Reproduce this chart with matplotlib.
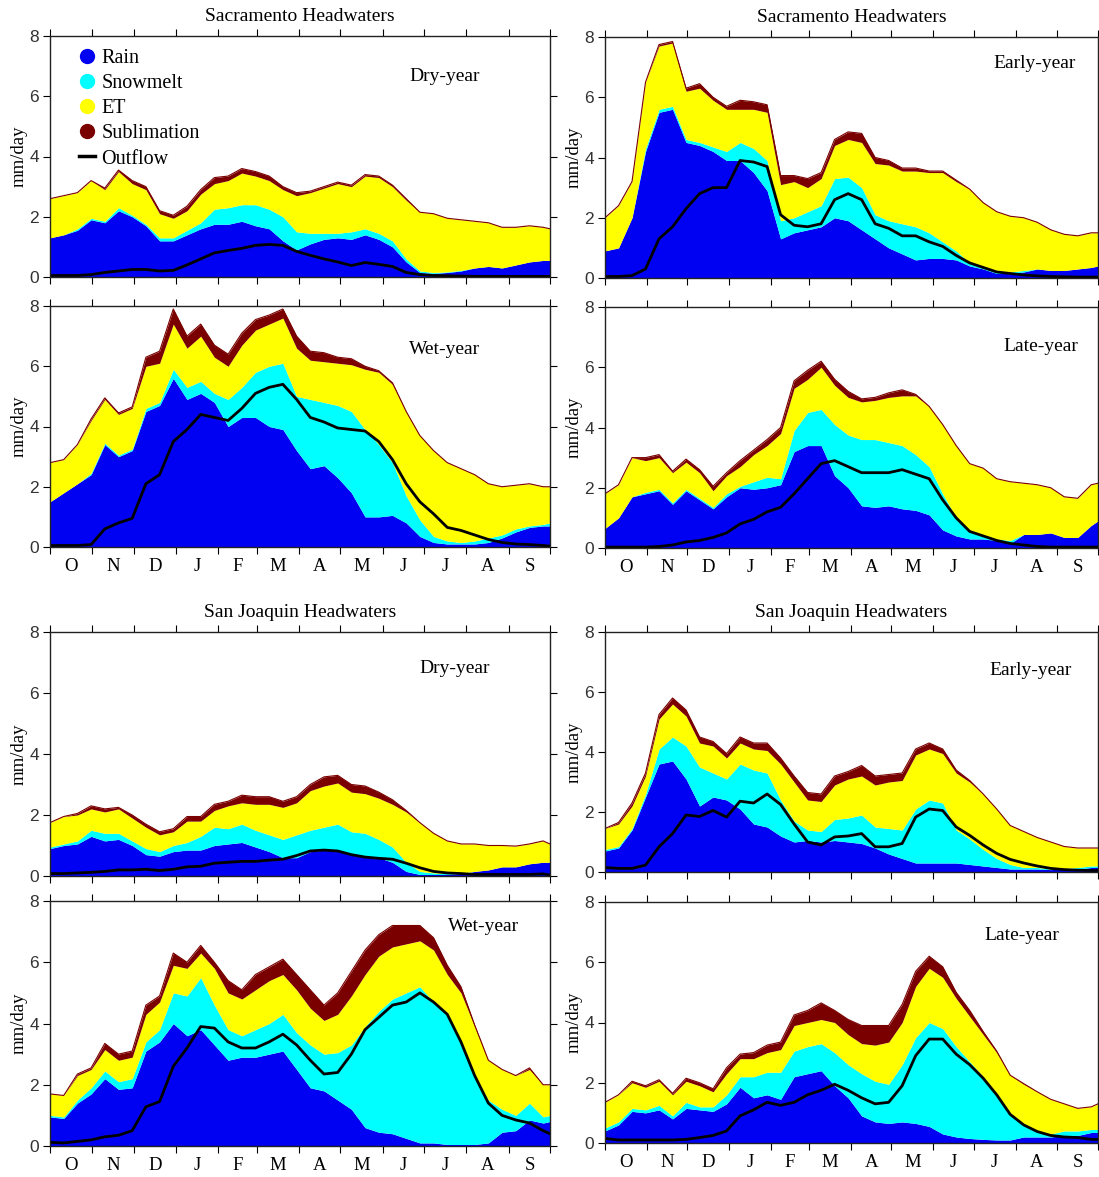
import numpy as np
import matplotlib
matplotlib.use("Agg")
import matplotlib.pyplot as plt
from matplotlib.lines import Line2D

plt.rcParams['font.family'] = ['Liberation Serif', 'DejaVu Serif']

# water-year days since 1 Oct, sampled every ~10 days
days = [0, 10, 20, 30, 40, 50, 60, 70, 80, 90, 100, 110, 120, 130, 140, 150, 160, 170, 180,
        190, 200, 210, 220, 230, 240, 250, 260, 270, 280, 290, 300, 310, 320, 330, 340, 350, 360, 365]
month_edges = [0, 31, 61, 92, 123, 151, 182, 212, 243, 273, 304, 335, 365]
month_labels = ['O', 'N', 'D', 'J', 'F', 'M', 'A', 'M', 'J', 'J', 'A', 'S']

# stacked layer tops (mm/day): rain, +snowmelt, +ET, +sublimation ; outflow line
# Sacramento - dry year
sac_dry_rain = [1.3, 1.4, 1.55, 1.9, 1.8, 2.2, 2.0, 1.7, 1.2, 1.2, 1.4, 1.6, 1.75, 1.75, 1.85, 1.7, 1.6, 1.2, 0.9,
                1.1, 1.25, 1.3, 1.25, 1.4, 1.25, 1.0, 0.5, 0.15, 0.12, 0.15, 0.2, 0.3, 0.35, 0.3, 0.4, 0.5, 0.55, 0.55]
sac_dry_snow = [1.3, 1.4, 1.6, 1.95, 1.85, 2.3, 2.05, 1.75, 1.3, 1.3, 1.55, 1.8, 2.25, 2.3, 2.4, 2.4, 2.25, 2.0, 1.5,
                1.45, 1.45, 1.45, 1.5, 1.6, 1.45, 1.2, 0.6, 0.2, 0.15, 0.17, 0.22, 0.3, 0.35, 0.3, 0.4, 0.5, 0.55, 0.55]
sac_dry_et = [2.6, 2.7, 2.8, 3.2, 2.9, 3.5, 3.1, 2.9, 2.1, 1.95, 2.2, 2.75, 3.1, 3.2, 3.45, 3.35, 3.2, 2.9, 2.7,
              2.8, 2.95, 3.1, 3.0, 3.35, 3.3, 3.0, 2.55, 2.15, 2.1, 1.95, 1.9, 1.85, 1.8, 1.65, 1.65, 1.7, 1.65, 1.6]
sac_dry_subl = [2.6, 2.7, 2.8, 3.2, 2.95, 3.55, 3.2, 3.0, 2.2, 2.05, 2.35, 2.9, 3.3, 3.35, 3.6, 3.5, 3.35, 3.0, 2.8,
                2.85, 3.0, 3.15, 3.05, 3.4, 3.35, 3.05, 2.6, 2.15, 2.1, 1.95, 1.9, 1.85, 1.8, 1.65, 1.65, 1.7, 1.65, 1.6]
sac_dry_out = [0.05, 0.05, 0.05, 0.08, 0.15, 0.2, 0.25, 0.25, 0.2, 0.22, 0.4, 0.6, 0.8, 0.88, 0.95, 1.05, 1.08, 1.05, 0.85,
               0.72, 0.6, 0.5, 0.38, 0.48, 0.42, 0.35, 0.15, 0.08, 0.05, 0.04, 0.03, 0.02, 0.02, 0.02, 0.02, 0.02, 0.02, 0.02]

# Sacramento - early year
sac_early_rain = [0.9, 1.0, 2.0, 4.2, 5.5, 5.6, 4.5, 4.4, 4.2, 3.9, 3.9, 3.5, 2.9, 1.3, 1.5, 1.6, 1.7, 2.0, 1.9,
                  1.6, 1.3, 1.0, 0.8, 0.6, 0.65, 0.65, 0.6, 0.4, 0.3, 0.15, 0.15, 0.2, 0.3, 0.25, 0.25, 0.3, 0.35, 0.4]
sac_early_snow = [0.9, 1.0, 2.0, 4.3, 5.6, 5.7, 4.6, 4.5, 4.35, 4.2, 4.5, 4.3, 3.9, 1.9, 2.0, 2.2, 2.4, 3.3, 3.35,
                  3.0, 2.1, 1.9, 1.8, 1.7, 1.5, 1.2, 0.9, 0.5, 0.35, 0.25, 0.2, 0.25, 0.3, 0.25, 0.25, 0.3, 0.35, 0.4]
sac_early_et = [2.0, 2.4, 3.2, 6.5, 7.7, 7.8, 6.2, 6.3, 5.9, 5.6, 5.6, 5.6, 5.5, 3.1, 3.2, 3.0, 3.3, 4.4, 4.6,
                4.5, 3.8, 3.75, 3.55, 3.55, 3.5, 3.5, 3.2, 2.95, 2.5, 2.2, 2.05, 2.0, 1.85, 1.6, 1.45, 1.4, 1.5, 1.5]
sac_early_subl = [2.0, 2.4, 3.2, 6.5, 7.75, 7.85, 6.3, 6.45, 6.0, 5.7, 5.9, 5.85, 5.75, 3.4, 3.4, 3.3, 3.5, 4.6, 4.85,
                  4.8, 4.0, 3.9, 3.65, 3.65, 3.55, 3.55, 3.25, 2.95, 2.5, 2.2, 2.05, 2.0, 1.85, 1.6, 1.45, 1.4, 1.5, 1.5]
sac_early_out = [0.05, 0.05, 0.08, 0.3, 1.3, 1.7, 2.3, 2.8, 3.0, 3.0, 3.9, 3.85, 3.7, 2.1, 1.75, 1.7, 1.8, 2.6, 2.8,
                 2.6, 1.8, 1.65, 1.4, 1.4, 1.2, 1.05, 0.75, 0.5, 0.35, 0.2, 0.15, 0.1, 0.07, 0.05, 0.04, 0.03, 0.03, 0.03]

# Sacramento - wet year
sac_wet_rain = [1.5, 1.8, 2.1, 2.4, 3.4, 3.0, 3.2, 4.5, 4.7, 5.6, 4.9, 5.1, 4.8, 4.0, 4.3, 4.3, 4.0, 3.9, 3.2,
                2.6, 2.7, 2.3, 1.8, 1.0, 1.0, 1.05, 0.8, 0.35, 0.15, 0.1, 0.1, 0.1, 0.15, 0.3, 0.5, 0.65, 0.7, 0.7]
sac_wet_snow = [1.5, 1.8, 2.1, 2.45, 3.45, 3.05, 3.25, 4.6, 4.8, 5.9, 5.3, 5.5, 5.1, 4.9, 5.3, 5.8, 6.0, 6.1, 5.0,
                4.9, 4.8, 4.7, 4.5, 3.9, 3.4, 2.8, 1.7, 0.9, 0.35, 0.2, 0.15, 0.2, 0.3, 0.4, 0.6, 0.7, 0.75, 0.8]
sac_wet_et = [2.8, 2.9, 3.4, 4.2, 4.9, 4.4, 4.6, 6.0, 6.1, 7.4, 6.6, 7.0, 6.3, 6.0, 6.7, 7.2, 7.4, 7.6, 6.6,
              6.2, 6.15, 6.1, 6.05, 5.9, 5.8, 5.4, 4.5, 3.7, 3.2, 2.8, 2.6, 2.4, 2.1, 2.0, 2.05, 2.1, 2.0, 2.0]
sac_wet_subl = [2.8, 2.9, 3.4, 4.25, 4.95, 4.45, 4.65, 6.3, 6.5, 7.9, 7.0, 7.4, 6.7, 6.4, 7.1, 7.55, 7.7, 7.9, 7.0,
                6.5, 6.45, 6.3, 6.25, 6.0, 5.85, 5.45, 4.5, 3.7, 3.2, 2.8, 2.6, 2.4, 2.1, 2.0, 2.05, 2.1, 2.0, 2.0]
sac_wet_out = [0.05, 0.05, 0.05, 0.08, 0.6, 0.8, 0.95, 2.1, 2.4, 3.5, 3.9, 4.4, 4.3, 4.2, 4.6, 5.1, 5.3, 5.4, 4.9,
               4.3, 4.15, 3.95, 3.9, 3.85, 3.5, 2.9, 2.1, 1.5, 1.1, 0.65, 0.55, 0.4, 0.25, 0.15, 0.1, 0.08, 0.05, 0.03]

# Sacramento - late year
sac_late_rain = [0.65, 1.0, 1.7, 1.8, 1.9, 1.45, 1.9, 1.6, 1.3, 1.7, 2.0, 1.95, 2.0, 2.1, 3.2, 3.4, 3.4, 2.4, 2.0,
                 1.4, 1.35, 1.4, 1.3, 1.25, 1.1, 0.6, 0.4, 0.3, 0.3, 0.25, 0.15, 0.45, 0.45, 0.5, 0.35, 0.35, 0.75, 0.9]
sac_late_snow = [0.65, 1.0, 1.7, 1.85, 1.95, 1.5, 1.95, 1.65, 1.35, 1.8, 2.05, 2.2, 2.35, 2.3, 3.9, 4.5, 4.6, 4.1, 3.75,
                 3.6, 3.6, 3.5, 3.4, 3.1, 2.7, 1.8, 1.0, 0.55, 0.4, 0.3, 0.25, 0.45, 0.45, 0.5, 0.35, 0.35, 0.75, 0.9]
sac_late_et = [1.8, 2.1, 3.0, 2.9, 3.0, 2.5, 2.85, 2.5, 1.9, 2.4, 2.7, 3.1, 3.4, 3.8, 5.3, 5.6, 6.0, 5.4, 5.0,
               4.85, 4.9, 5.0, 5.05, 5.05, 4.7, 4.1, 3.4, 2.8, 2.65, 2.3, 2.2, 2.15, 2.1, 2.0, 1.7, 1.65, 2.1, 2.15]
sac_late_subl = [1.8, 2.1, 3.0, 3.0, 3.1, 2.55, 2.95, 2.6, 2.05, 2.5, 2.9, 3.25, 3.6, 4.0, 5.55, 5.9, 6.2, 5.6, 5.2,
                 4.95, 5.0, 5.15, 5.25, 5.1, 4.7, 4.1, 3.4, 2.8, 2.65, 2.3, 2.2, 2.15, 2.1, 2.0, 1.7, 1.65, 2.1, 2.15]
sac_late_out = [0.03, 0.03, 0.03, 0.03, 0.05, 0.1, 0.2, 0.25, 0.35, 0.5, 0.8, 0.95, 1.2, 1.35, 1.8, 2.3, 2.8, 2.9, 2.7,
                2.5, 2.5, 2.5, 2.6, 2.45, 2.3, 1.6, 1.0, 0.55, 0.4, 0.25, 0.15, 0.1, 0.05, 0.03, 0.03, 0.03, 0.03, 0.03]

# San Joaquin - dry year
sj_dry_rain = [0.9, 1.0, 1.05, 1.3, 1.15, 1.2, 1.0, 0.7, 0.65, 0.8, 0.85, 0.85, 1.0, 1.05, 1.1, 0.95, 0.8, 0.6, 0.6,
               0.8, 0.85, 0.85, 0.7, 0.65, 0.6, 0.45, 0.15, 0.05, 0.05, 0.05, 0.08, 0.15, 0.2, 0.3, 0.3, 0.4, 0.45, 0.45]
sj_dry_snow = [0.95, 1.05, 1.15, 1.5, 1.4, 1.4, 1.15, 0.9, 0.8, 1.0, 1.1, 1.3, 1.6, 1.55, 1.7, 1.5, 1.35, 1.2, 1.35,
               1.5, 1.6, 1.7, 1.45, 1.4, 1.2, 0.95, 0.45, 0.15, 0.1, 0.08, 0.1, 0.15, 0.2, 0.3, 0.3, 0.4, 0.45, 0.45]
sj_dry_et = [1.75, 1.95, 2.0, 2.2, 2.1, 2.2, 1.9, 1.6, 1.35, 1.45, 1.8, 1.8, 2.15, 2.3, 2.4, 2.35, 2.35, 2.25, 2.4,
             2.8, 2.95, 3.05, 2.75, 2.7, 2.55, 2.35, 2.1, 1.75, 1.4, 1.15, 1.05, 1.05, 1.0, 1.0, 0.98, 1.05, 1.15, 1.05]
sj_dry_subl = [1.75, 1.95, 2.05, 2.3, 2.2, 2.25, 2.0, 1.7, 1.45, 1.55, 1.95, 1.95, 2.35, 2.45, 2.65, 2.6, 2.6, 2.45, 2.6,
               3.0, 3.25, 3.3, 3.0, 2.95, 2.75, 2.5, 2.15, 1.75, 1.4, 1.15, 1.05, 1.05, 1.0, 1.0, 0.98, 1.05, 1.15, 1.05]
sj_dry_out = [0.08, 0.08, 0.1, 0.12, 0.15, 0.2, 0.2, 0.22, 0.18, 0.22, 0.3, 0.32, 0.42, 0.45, 0.48, 0.48, 0.52, 0.55, 0.67,
              0.82, 0.85, 0.82, 0.7, 0.62, 0.58, 0.55, 0.42, 0.27, 0.15, 0.1, 0.08, 0.05, 0.05, 0.05, 0.05, 0.05, 0.07, 0.03]

# San Joaquin - early year
sj_early_rain = [0.7, 0.8, 1.4, 2.5, 3.6, 3.7, 3.1, 2.2, 2.5, 2.4, 2.1, 1.6, 1.5, 1.2, 1.0, 1.05, 1.0, 1.05, 1.0,
                 0.95, 0.8, 0.6, 0.45, 0.3, 0.3, 0.3, 0.3, 0.25, 0.2, 0.15, 0.1, 0.1, 0.1, 0.08, 0.1, 0.1, 0.15, 0.15]
sj_early_snow = [0.75, 0.85, 1.45, 2.6, 4.1, 4.5, 4.2, 3.5, 3.3, 3.1, 3.6, 3.4, 3.3, 2.4, 1.7, 1.4, 1.35, 1.75, 1.8,
                 1.9, 1.5, 1.45, 1.4, 2.1, 2.4, 2.3, 1.4, 1.1, 0.75, 0.45, 0.25, 0.15, 0.15, 0.1, 0.12, 0.15, 0.2, 0.2]
sj_early_et = [1.45, 1.6, 2.2, 3.2, 5.1, 5.6, 5.2, 4.3, 4.2, 3.8, 4.3, 4.1, 4.05, 3.6, 3.0, 2.4, 2.35, 2.9, 3.1,
               3.2, 2.9, 3.0, 3.05, 3.9, 4.1, 3.95, 3.3, 3.0, 2.6, 2.1, 1.55, 1.35, 1.15, 1.0, 0.85, 0.8, 0.8, 0.8]
sj_early_subl = [1.45, 1.65, 2.3, 3.3, 5.25, 5.8, 5.4, 4.5, 4.35, 3.95, 4.5, 4.3, 4.3, 3.8, 3.2, 2.65, 2.6, 3.2, 3.35,
                 3.55, 3.2, 3.25, 3.3, 4.1, 4.3, 4.1, 3.4, 3.05, 2.6, 2.1, 1.55, 1.35, 1.15, 1.0, 0.85, 0.8, 0.8, 0.8]
sj_early_out = [0.15, 0.12, 0.12, 0.23, 0.84, 1.28, 1.9, 1.85, 2.05, 1.83, 2.36, 2.3, 2.6, 2.25, 1.6, 1.0, 0.9, 1.17, 1.2,
                1.28, 0.84, 0.84, 0.95, 1.83, 2.1, 2.05, 1.5, 1.22, 0.9, 0.62, 0.42, 0.3, 0.2, 0.12, 0.08, 0.06, 0.05, 0.05]

# San Joaquin - wet year
sj_wet_rain = [0.95, 0.9, 1.4, 1.7, 2.2, 1.85, 1.9, 3.1, 3.4, 4.0, 3.6, 3.8, 3.3, 2.8, 2.9, 2.9, 3.0, 3.1, 2.5,
               1.9, 1.8, 1.5, 1.2, 0.6, 0.45, 0.4, 0.25, 0.1, 0.1, 0.05, 0.05, 0.05, 0.1, 0.45, 0.5, 0.85, 0.75, 0.8]
sj_wet_snow = [1.0, 0.95, 1.5, 1.9, 2.45, 2.1, 2.2, 3.4, 3.8, 5.0, 4.9, 5.5, 4.6, 3.8, 3.6, 3.8, 4.0, 4.3, 3.7,
               3.3, 3.0, 3.05, 3.3, 3.9, 4.4, 4.8, 5.0, 5.2, 4.7, 4.3, 3.4, 2.3, 1.5, 1.2, 1.0, 1.4, 0.95, 1.0]
sj_wet_et = [1.7, 1.65, 2.3, 2.5, 3.15, 2.8, 2.9, 4.3, 4.7, 5.9, 5.8, 6.3, 5.8, 5.0, 4.8, 5.1, 5.4, 5.6, 5.1,
             4.5, 4.1, 4.3, 4.9, 5.6, 6.2, 6.5, 6.6, 6.7, 6.4, 5.6, 5.0, 3.9, 2.8, 2.5, 2.3, 2.5, 2.0, 2.0]
sj_wet_subl = [1.7, 1.65, 2.35, 2.55, 3.35, 3.0, 3.1, 4.6, 4.9, 6.3, 6.0, 6.55, 6.0, 5.4, 5.1, 5.6, 5.85, 6.1, 5.6,
               5.1, 4.6, 5.0, 5.7, 6.4, 6.9, 7.2, 7.2, 7.2, 6.8, 5.9, 5.2, 3.95, 2.8, 2.5, 2.3, 2.55, 2.0, 2.0]
sj_wet_out = [0.12, 0.1, 0.15, 0.2, 0.3, 0.35, 0.5, 1.28, 1.45, 2.6, 3.2, 3.9, 3.85, 3.4, 3.2, 3.2, 3.4, 3.65, 3.3,
              2.8, 2.35, 2.4, 3.0, 3.8, 4.2, 4.6, 4.7, 5.0, 4.7, 4.3, 3.4, 2.3, 1.4, 1.0, 0.85, 0.75, 0.5, 0.4]

# San Joaquin - late year
sj_late_rain = [0.4, 0.6, 1.05, 1.0, 1.1, 0.8, 1.15, 1.1, 1.05, 1.3, 1.85, 1.5, 1.6, 1.45, 2.2, 2.3, 2.4, 1.9, 1.5,
                0.9, 0.7, 0.65, 0.7, 0.65, 0.55, 0.3, 0.2, 0.15, 0.12, 0.1, 0.1, 0.2, 0.2, 0.2, 0.25, 0.25, 0.35, 0.35]
sj_late_snow = [0.5, 0.7, 1.15, 1.1, 1.25, 0.9, 1.35, 1.2, 1.2, 1.6, 2.2, 2.2, 2.35, 2.35, 3.05, 3.2, 3.3, 3.0, 2.6,
                2.3, 2.05, 1.95, 2.6, 3.5, 4.0, 3.8, 3.2, 2.7, 2.2, 1.55, 0.95, 0.6, 0.4, 0.3, 0.4, 0.4, 0.45, 0.45]
sj_late_et = [1.35, 1.6, 2.0, 1.85, 2.05, 1.6, 2.05, 1.9, 1.7, 2.3, 2.8, 2.8, 3.0, 3.1, 3.9, 4.0, 4.1, 4.0, 3.6,
              3.3, 3.25, 3.35, 4.0, 5.2, 5.8, 5.5, 4.8, 4.2, 3.6, 3.0, 2.25, 1.95, 1.7, 1.45, 1.3, 1.15, 1.2, 1.3]
sj_late_subl = [1.35, 1.6, 2.05, 1.9, 2.1, 1.65, 2.15, 2.0, 1.8, 2.5, 2.95, 3.0, 3.25, 3.35, 4.25, 4.4, 4.65, 4.4, 4.1,
                3.9, 3.9, 3.9, 4.6, 5.7, 6.2, 5.85, 5.0, 4.4, 3.7, 3.05, 2.25, 1.97, 1.7, 1.45, 1.3, 1.15, 1.2, 1.3]
sj_late_out = [0.15, 0.1, 0.1, 0.1, 0.1, 0.1, 0.12, 0.18, 0.25, 0.4, 0.9, 1.1, 1.35, 1.25, 1.35, 1.6, 1.75, 1.95, 1.75,
               1.5, 1.3, 1.35, 1.9, 2.9, 3.45, 3.45, 2.95, 2.6, 2.15, 1.6, 0.95, 0.6, 0.38, 0.25, 0.2, 0.18, 0.12, 0.12]

RAIN_C = '#0000F2'
SNOW_C = '#00FFFF'
ET_C = '#FFFF00'
SUBL_C = '#7A0000'


def draw_panel(ax, rain, snow, et, subl, outflow, tag, tag_xy, show_months):
    x = np.array(days)
    r = np.array(rain)
    s = np.maximum(np.array(snow), r)
    e = np.maximum(np.array(et), s)
    t = np.maximum(np.array(subl), e)
    ax.fill_between(x, 0, r, color=RAIN_C, lw=0)
    ax.fill_between(x, r, s, color=SNOW_C, lw=0)
    ax.fill_between(x, s, e, color=ET_C, lw=0)
    ax.fill_between(x, e, t, color=SUBL_C, lw=0)
    ax.plot(x, t, color=SUBL_C, lw=0.8)
    ax.plot(x, outflow, color='black', lw=2)

    ax.set_xlim(0, 365)
    ax.set_ylim(0, 8)
    ax.set_yticks([0, 2, 4, 6, 8])
    for lab in ax.get_yticklabels():
        lab.set_family('Liberation Sans')
        lab.set_fontsize(12.5)
        lab.set_color('#333333')
    ax.tick_params(axis='y', which='major', direction='out', length=5, right=True, left=True, pad=3)
    ax.set_xticks(month_edges)
    ax.set_xticklabels([])
    ax.tick_params(axis='x', which='major', direction='out', length=5, top=True, bottom=True)
    centers = [(month_edges[i] + month_edges[i + 1]) / 2 for i in range(12)]
    ax.set_xticks(centers, minor=True)
    if show_months:
        ax.set_xticklabels(month_labels, minor=True, fontsize=13.5)
    ax.tick_params(axis='x', which='minor', length=0, pad=8)
    for sp in ax.spines.values():
        sp.set_linewidth(1.0)
        sp.set_color('#222222')
    ax.set_ylabel('mm/day', fontsize=13.5, labelpad=1)
    ax.text(tag_xy[0], tag_xy[1], tag, transform=ax.transAxes, fontsize=14,
            ha='center', va='center')


fig = plt.figure(figsize=(10.99, 11.77), dpi=100)
W, H = 1099.0, 1177.0


def make_ax(left_px, top_px, right_px, bottom_px):
    return fig.add_axes([left_px / W, 1 - bottom_px / H,
                         (right_px - left_px) / W, (bottom_px - top_px) / H])


ax1 = make_ax(50, 36, 550, 277)
ax2 = make_ax(605, 37, 1098, 278)
ax3 = make_ax(50, 306, 550, 547)
ax4 = make_ax(605, 307, 1098, 548)
ax5 = make_ax(50, 632, 550, 876)
ax6 = make_ax(605, 632, 1098, 872)
ax7 = make_ax(50, 901, 550, 1146)
ax8 = make_ax(605, 902, 1098, 1143)

draw_panel(ax1, sac_dry_rain, sac_dry_snow, sac_dry_et, sac_dry_subl, sac_dry_out,
           'Dry-year', (0.79, 0.83), False)
draw_panel(ax2, sac_early_rain, sac_early_snow, sac_early_et, sac_early_subl, sac_early_out,
           'Early-year', (0.872, 0.89), False)
draw_panel(ax3, sac_wet_rain, sac_wet_snow, sac_wet_et, sac_wet_subl, sac_wet_out,
           'Wet-year', (0.79, 0.82), True)
draw_panel(ax4, sac_late_rain, sac_late_snow, sac_late_et, sac_late_subl, sac_late_out,
           'Late-year', (0.884, 0.838), True)
draw_panel(ax5, sj_dry_rain, sj_dry_snow, sj_dry_et, sj_dry_subl, sj_dry_out,
           'Dry-year', (0.81, 0.85), False)
draw_panel(ax6, sj_early_rain, sj_early_snow, sj_early_et, sj_early_subl, sj_early_out,
           'Early-year', (0.864, 0.84), False)
draw_panel(ax7, sj_wet_rain, sj_wet_snow, sj_wet_et, sj_wet_subl, sj_wet_out,
           'Wet-year', (0.868, 0.894), True)
draw_panel(ax8, sj_late_rain, sj_late_snow, sj_late_et, sj_late_subl, sj_late_out,
           'Late-year', (0.845, 0.863), True)

for ax in (ax1, ax2):
    ax.set_title('Sacramento Headwaters', fontsize=14, pad=11)
for ax in (ax5, ax6):
    ax.set_title('San Joaquin Headwaters', fontsize=14, pad=11)

handles = [
    Line2D([], [], ls='none', marker='o', ms=10, mfc=RAIN_C, mec=RAIN_C),
    Line2D([], [], ls='none', marker='o', ms=10, mfc=SNOW_C, mec=SNOW_C),
    Line2D([], [], ls='none', marker='o', ms=10, mfc=ET_C, mec=ET_C),
    Line2D([], [], ls='none', marker='o', ms=10, mfc=SUBL_C, mec=SUBL_C),
    Line2D([], [], color='black', lw=2.5),
]
ax1.legend(handles, ['Rain', 'Snowmelt', 'ET', 'Sublimation', 'Outflow'],
           loc='upper left', bbox_to_anchor=(0.03, 1.005), frameon=False,
           fontsize=14.5, handlelength=0.8, handletextpad=0.3, labelspacing=0.3,
           borderaxespad=0.3)

fig.savefig('out.png', dpi=100)
